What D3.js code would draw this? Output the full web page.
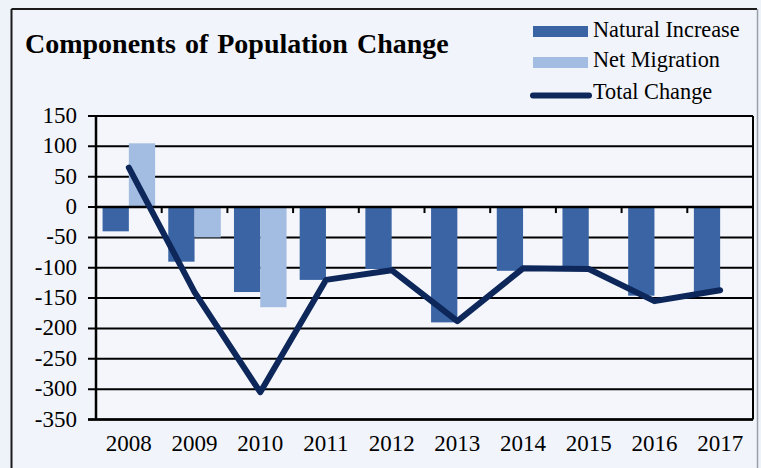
<!DOCTYPE html>
<html>
<head>
<meta charset="utf-8">
<script src="https://cdn.jsdelivr.net/npm/d3@7"></script>
<style>
  html, body { margin: 0; padding: 0; background: #eef2f9; }
  svg { display: block; }
</style>
</head>
<body>
<svg id="chart" width="761" height="468"></svg>
<script>
const years = ["2008","2009","2010","2011","2012","2013","2014","2015","2016","2017"];
const naturalIncrease = [-40, -90, -140, -120, -102, -190, -105, -101, -146, -140];
const netMigration = [105, -50, -165, null, null, null, null, null, null, null];
const totalChange = [65, -140, -305, -120, -104, -188, -101, -102, -155, -137];
const yTicks = [150, 100, 50, 0, -50, -100, -150, -200, -250, -300, -350];
const seriesNames = ["Natural Increase", "Net Migration", "Total Change"];

const colors = { ni: "#3a64a4", nm: "#a2bce2", line: "#0d275a" };
const serif = "'Liberation Serif', 'Times New Roman', serif";

const svg = d3.select("#chart");
const W = 761, H = 468;
const plot = { left: 96, right: 753, top: 116, bottom: 419.5 };

// background panel
svg.append("rect").attr("x", 0).attr("y", 0).attr("width", W).attr("height", H).attr("fill", "#eef2f9");
svg.append("rect").attr("x", 12).attr("y", 9).attr("width", 745).attr("height", 470).attr("fill", "#f1f4fa");
// outer border
svg.append("line").attr("x1", 11.5).attr("y1", 9).attr("x2", 11.5).attr("y2", H).attr("stroke", "#1a1a1a").attr("stroke-width", 2);
svg.append("line").attr("x1", 11.5).attr("y1", 9).attr("x2", 757).attr("y2", 9).attr("stroke", "#1a1a1a").attr("stroke-width", 2);
svg.append("line").attr("x1", 757.5).attr("y1", 9).attr("x2", 757.5).attr("y2", H).attr("stroke", "#9aa0aa").attr("stroke-width", 1.5);

// plot area background
svg.append("rect").attr("x", plot.left).attr("y", plot.top)
  .attr("width", plot.right - plot.left).attr("height", plot.bottom - plot.top).attr("fill", "#f4f6fb");

const x = d3.scaleBand().domain(years).range([plot.left, plot.right]).paddingInner(0).paddingOuter(0);
const xs = d3.scaleBand().domain(["ni", "nm"]).range([0, x.bandwidth()]).paddingInner(0).paddingOuter(0.25);
const y = d3.scaleLinear().domain([-350, 150]).range([plot.bottom, plot.top]);

// gridlines
svg.append("g").selectAll("line").data(yTicks).join("line")
  .attr("x1", plot.left - 8).attr("x2", plot.right)
  .attr("y1", d => y(d)).attr("y2", d => y(d))
  .attr("stroke", "#000").attr("stroke-width", 2);

// y tick labels
svg.append("g").selectAll("text").data(yTicks).join("text")
  .attr("x", 77).attr("y", d => y(d) + 7)
  .attr("text-anchor", "end")
  .attr("font-family", serif).attr("font-size", 23).attr("fill", "#000")
  .text(d => d);

// bars
const barData = [];
years.forEach((yr, i) => {
  barData.push({ yr, key: "ni", v: naturalIncrease[i] });
  if (netMigration[i] !== null) barData.push({ yr, key: "nm", v: netMigration[i] });
});
svg.append("g").selectAll("rect").data(barData).join("rect")
  .attr("x", d => x(d.yr) + xs(d.key))
  .attr("width", xs.bandwidth())
  .attr("y", d => Math.min(y(0), y(d.v)))
  .attr("height", d => Math.abs(y(d.v) - y(0)))
  .attr("fill", d => colors[d.key]);

// axes lines
svg.append("line").attr("x1", plot.left).attr("x2", plot.left).attr("y1", plot.top).attr("y2", plot.bottom)
  .attr("stroke", "#000").attr("stroke-width", 2.5);
svg.append("line").attr("x1", plot.right).attr("x2", plot.right).attr("y1", plot.top).attr("y2", plot.bottom)
  .attr("stroke", "#000").attr("stroke-width", 2);
svg.append("line").attr("x1", plot.left - 8).attr("x2", plot.right).attr("y1", plot.bottom).attr("y2", plot.bottom)
  .attr("stroke", "#000").attr("stroke-width", 2.5);
svg.append("line").attr("x1", plot.left).attr("x2", plot.right).attr("y1", y(0)).attr("y2", y(0))
  .attr("stroke", "#000").attr("stroke-width", 2.5);
// category tick marks on zero line
svg.append("g").selectAll("line").data(years.slice(1)).join("line")
  .attr("x1", d => x(d)).attr("x2", d => x(d))
  .attr("y1", y(0)).attr("y2", y(0) + 6)
  .attr("stroke", "#000").attr("stroke-width", 2);

// total change line
const line = d3.line().x((d, i) => x(years[i]) + x.bandwidth() / 2).y(d => y(d));
svg.append("path").datum(totalChange).attr("d", line)
  .attr("fill", "none").attr("stroke", colors.line).attr("stroke-width", 6)
  .attr("stroke-linejoin", "round").attr("stroke-linecap", "round");

// x labels
svg.append("g").selectAll("text").data(years).join("text")
  .attr("x", d => x(d) + x.bandwidth() / 2).attr("y", 451)
  .attr("text-anchor", "middle")
  .attr("font-family", serif).attr("font-size", 23).attr("fill", "#000")
  .text(d => d);

// title
svg.append("text").attr("x", 25).attr("y", 52.5)
  .attr("font-family", serif).attr("font-size", 28).attr("font-weight", "bold").attr("fill", "#000")
  .attr("word-spacing", 2)
  .text("Components of Population Change");

// legend
const lg = svg.append("g");
lg.append("rect").attr("x", 533).attr("y", 26).attr("width", 55).attr("height", 11).attr("fill", colors.ni);
lg.append("rect").attr("x", 533).attr("y", 57).attr("width", 55).attr("height", 11).attr("fill", colors.nm);
lg.append("line").attr("x1", 533).attr("x2", 589).attr("y1", 95.5).attr("y2", 95.5)
  .attr("stroke", colors.line).attr("stroke-width", 6).attr("stroke-linecap", "round");
lg.selectAll("text").data(seriesNames).join("text")
  .attr("x", 593).attr("y", (d, i) => [37, 67, 99][i])
  .attr("font-family", serif).attr("font-size", 22.3).attr("fill", "#000")
  .text(d => d);
</script>
</body>
</html>
